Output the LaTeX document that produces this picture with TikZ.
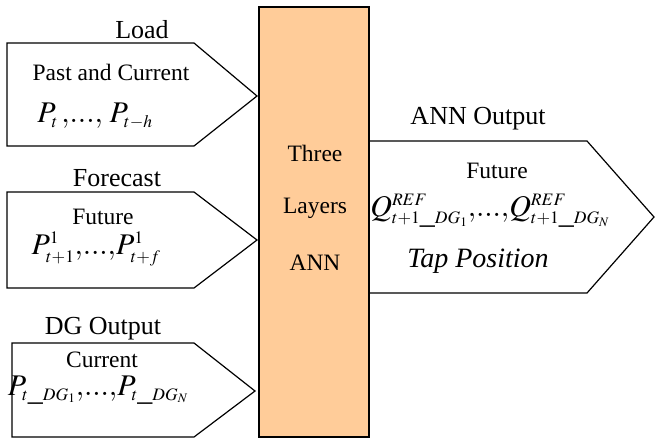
\documentclass[tikz,border=0pt]{standalone}
\usepackage{mathptmx}
\usepackage{fontspec}
\setmainfont{Liberation Serif}
\DeclareMathSizes{30}{30}{17.5}{13}
\newcommand{\dotsq}{{,}\mathrm{...}{,}}
\begin{document}
\begin{tikzpicture}[x=1pt, y=-1pt, line width=1.2pt,
    lbl/.style={font=\fontsize{26}{30}\selectfont, inner sep=0pt},
    sub/.style={font=\fontsize{23.5}{28}\selectfont, inner sep=0pt},
    eq/.style={font=\fontsize{30}{34}\selectfont, inner sep=0pt}]
    % Define colors
    \definecolor{annfill}{RGB}{255,204,153}
    \useasboundingbox (0,0) rectangle (655,439);

    % ANN block
    \draw[fill=annfill] (259,7) rectangle (369,437);
    \node[sub] (three) at (315,153) {Three};
    \node[sub] (layers) at (315,208) {Layers};
    \node[sub] (ann) at (315,263) {ANN};

    % Load input
    \draw (7,43) -- (194,43) -- (257,96) -- (194,146) -- (7,146) -- cycle;
    \node[lbl] (load) at (142,30) {Load};
    \node[sub] (past) at (111,72) {Past and Current};
    \node[eq] (ploadeq) at (95,116) {$P_t\,\dotsq\;P_{t-h}$};

    % Forecast input
    \draw (7,192) -- (194,192) -- (257,240) -- (194,288) -- (7,288) -- cycle;
    \node[lbl] (forecast) at (117,178) {Forecast};
    \node[sub] (future) at (103,217) {Future};
    \node[eq] (pfcsteq) at (96,249) {$P_{t+1}^{1}\dotsq P_{t+f}^{1}$};

    % DG output input
    \draw (12,343) -- (194,343) -- (255,391) -- (194,437) -- (12,437) -- cycle;
    \node[lbl] (dgout) at (103,329) {DG Output};
    \node[sub] (current) at (102,360) {Current};
    \node[eq] (pdgeq) at (98,390) {$P_{t\_DG_1}\dotsq P_{t\_DG_N}$};

    % ANN output
    \draw (369,141) -- (587,141) -- (654,217) -- (587,293) -- (369,293);
    \node[lbl] (annout) at (478,119) {ANN Output};
    \node[sub] (future2) at (497,171) {Future};
    \node[eq] (qrefeq) at (490,211) {$Q_{t+1\_DG_1}^{REF}\dotsq Q_{t+1\_DG_N}^{REF}$};
    \node[font=\fontsize{28}{32}\selectfont\itshape, inner sep=0pt] (tap) at (478,261) {Tap Position};
\end{tikzpicture}
\end{document}
